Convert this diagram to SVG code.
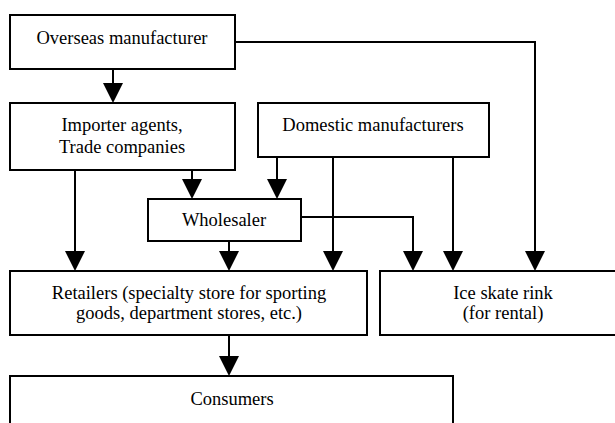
<svg xmlns="http://www.w3.org/2000/svg" width="615" height="423" viewBox="0 0 615 423">
<style>
.box{fill:#fff;stroke:#000;stroke-width:2}
text{font-family:'Liberation Serif','Times New Roman',Times,'DejaVu Serif',serif;font-size:18.5px;fill:#000;text-anchor:middle}
.c{fill:none;stroke:#000;stroke-width:2}
.a{fill:#000;stroke:none}
</style>
<defs>
<path id="ah" d="M-10,-20 L10,-20 L0,0 Z"/>
</defs>
<rect width="615" height="423" fill="#fff"/>
<g id="connectors">
<path class="c" d="M113,69 V84"/>
<path class="c" d="M235,42 H535 V252"/>
<path class="c" d="M75,170 V252"/>
<path class="c" d="M192,170 V180"/>
<path class="c" d="M277,157 V180"/>
<path class="c" d="M333,157 V252"/>
<path class="c" d="M453,157 V252"/>
<path class="c" d="M301,217 H413 V252"/>
<path class="c" d="M229,241 V252"/>
<path class="c" d="M229,335 V357"/>
<use href="#ah" class="a" x="113" y="103"/>
<use href="#ah" class="a" x="192" y="199"/>
<use href="#ah" class="a" x="277" y="199"/>
<use href="#ah" class="a" x="75" y="271"/>
<use href="#ah" class="a" x="229" y="271"/>
<use href="#ah" class="a" x="333" y="271"/>
<use href="#ah" class="a" x="413" y="271"/>
<use href="#ah" class="a" x="453" y="271"/>
<use href="#ah" class="a" x="535" y="271"/>
<use href="#ah" class="a" x="229" y="376"/>
</g>
<g id="overseas">
<rect class="box" x="10" y="15" width="225" height="54"/>
<text x="122" y="44">Overseas manufacturer</text>
</g>
<g id="importer">
<rect class="box" x="10" y="103" width="225" height="67"/>
<text x="122" y="131">Importer agents,</text>
<text x="122" y="153">Trade companies</text>
</g>
<g id="domestic">
<rect class="box" x="258" y="103" width="231" height="54"/>
<text x="373" y="131">Domestic manufacturers</text>
</g>
<g id="wholesaler">
<rect class="box" x="148" y="199" width="153" height="42"/>
<text x="224" y="226">Wholesaler</text>
</g>
<g id="retailers">
<rect class="box" x="10" y="271" width="357" height="64"/>
<text x="189" y="299">Retailers (specialty store for sporting</text>
<text x="189" y="319">goods, department stores, etc.)</text>
</g>
<g id="rink">
<rect class="box" x="380" y="271" width="245" height="64"/>
<text x="503" y="299">Ice skate rink</text>
<text x="503" y="319">(for rental)</text>
</g>
<g id="consumers">
<rect class="box" x="10" y="376" width="443" height="60"/>
<text x="232" y="405">Consumers</text>
</g>
</svg>
